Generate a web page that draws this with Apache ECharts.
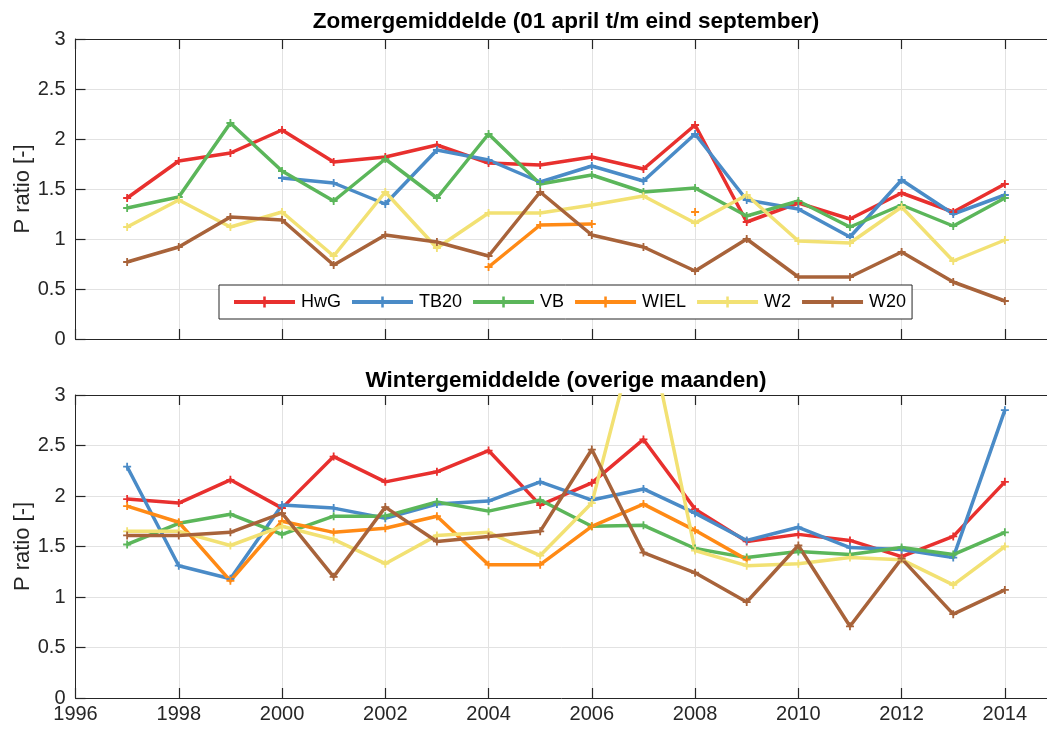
<!DOCTYPE html>
<html>
<head>
<meta charset="utf-8">
<script src="https://cdn.jsdelivr.net/npm/echarts@6/dist/echarts.min.js"></script>
<style>
  html, body { margin: 0; padding: 0; background: #fff; }
  #chart { width: 1047px; height: 729px; }
</style>
</head>
<body>
<div id="chart"></div>
<script>
// Jaren
const years = [1997, 1998, 1999, 2000, 2001, 2002, 2003, 2004, 2005, 2006, 2007, 2008, 2009, 2010, 2011, 2012, 2013, 2014];

// Zomergemiddelde (01 april t/m eind september)
const hwgZomer  = [1.41, 1.78, 1.86, 2.09, 1.77, 1.82, 1.94, 1.76, 1.74, 1.82, 1.70, 2.14, 1.17, 1.36, 1.20, 1.46, 1.27, 1.55];
const tb20Zomer = [null, null, null, 1.61, 1.56, 1.35, 1.89, 1.79, 1.57, 1.73, 1.58, 2.05, 1.39, 1.30, 1.02, 1.59, 1.25, 1.44];
const vbZomer   = [1.31, 1.42, 2.16, 1.68, 1.38, 1.80, 1.41, 2.05, 1.55, 1.64, 1.47, 1.51, 1.23, 1.38, 1.12, 1.34, 1.13, 1.41];
const wielZomer = [null, null, null, null, null, null, null, 0.72, 1.14, 1.15, null, 1.27, null, null, null, null, null, null];
const w2Zomer   = [1.12, 1.39, 1.12, 1.27, 0.83, 1.47, 0.91, 1.26, 1.26, 1.34, 1.43, 1.16, 1.44, 0.98, 0.96, 1.32, 0.78, 0.99];
const w20Zomer  = [0.77, 0.92, 1.22, 1.19, 0.74, 1.04, 0.97, 0.83, 1.47, 1.04, 0.92, 0.68, 1.00, 0.62, 0.62, 0.87, 0.57, 0.38];

// Wintergemiddelde (overige maanden)
const hwgWinter  = [1.97, 1.93, 2.16, 1.88, 2.39, 2.14, 2.24, 2.45, 1.91, 2.13, 2.56, 1.87, 1.55, 1.62, 1.56, 1.40, 1.60, 2.14];
const tb20Winter = [2.29, 1.31, 1.18, 1.91, 1.88, 1.78, 1.92, 1.95, 2.14, 1.96, 2.07, 1.83, 1.56, 1.69, 1.49, 1.47, 1.39, 2.85];
const vbWinter   = [1.52, 1.73, 1.82, 1.62, 1.80, 1.80, 1.94, 1.85, 1.96, 1.70, 1.71, 1.48, 1.39, 1.45, 1.42, 1.49, 1.42, 1.64];
const wielWinter = [1.90, 1.74, 1.16, 1.75, 1.64, 1.68, 1.80, 1.32, 1.32, 1.70, 1.92, 1.66, 1.37, null, null, null, null, null];
const w2Winter   = [1.65, 1.65, 1.51, 1.70, 1.57, 1.33, 1.61, 1.64, 1.41, 1.93, 3.90, 1.46, 1.31, 1.33, 1.39, 1.37, 1.12, 1.50];
const w20Winter  = [1.61, 1.61, 1.64, 1.83, 1.20, 1.89, 1.55, 1.60, 1.65, 2.46, 1.44, 1.24, 0.95, 1.51, 0.71, 1.38, 0.83, 1.07];

const stations = ['HwG', 'TB20', 'VB', 'WIEL', 'W2', 'W20'];
const colors = ['#e8302e', '#4a8bc7', '#5bb65a', '#ff8a15', '#f2e173', '#a8633a'];
const yTicks = { min: 0, max: 3, interval: 0.5 };
const xTicks = { min: 1996, max: 2015, interval: 2 };

const zomer = [hwgZomer, tb20Zomer, vbZomer, wielZomer, w2Zomer, w20Zomer];
const winter = [hwgWinter, tb20Winter, vbWinter, wielWinter, w2Winter, w20Winter];

const FONT = 'Liberation Sans, Arial, Helvetica, sans-serif';
const INK = '#262626';
const GRIDLINE = '#e2e2e2';

const plusSymbol = 'path://M-0.9,-4 L0.9,-4 L0.9,-0.9 L4,-0.9 L4,0.9 L0.9,0.9 L0.9,4 L-0.9,4 L-0.9,0.9 L-4,0.9 L-4,-0.9 L-0.9,-0.9 Z';

function pairs(values) {
  return years.map((y, i) => [y, values[i] == null ? '-' : values[i]]);
}

function xAxes(gridIndex, withLabels) {
  const base = {
    gridIndex: gridIndex,
    type: 'value',
    min: xTicks.min,
    max: xTicks.max,
    interval: xTicks.interval,
    axisLine: { show: true, lineStyle: { color: INK, width: 1 } },
    axisTick: { show: true, inside: true, length: 10, lineStyle: { color: INK, width: 1.2 } }
  };
  return [
    Object.assign({}, base, {
      position: 'bottom',
      splitLine: { show: true, lineStyle: { color: GRIDLINE, width: 1 } },
      axisLabel: {
        show: withLabels,
        fontFamily: FONT,
        fontSize: 20,
        color: INK,
        margin: 6,
        showMaxLabel: false,
        formatter: v => (v % 2 === 0 ? String(v) : '')
      }
    }),
    Object.assign({}, base, {
      position: 'top',
      splitLine: { show: false },
      axisLabel: { show: false }
    })
  ];
}

function yAxis(gridIndex) {
  return {
    gridIndex: gridIndex,
    type: 'value',
    min: yTicks.min,
    max: yTicks.max,
    interval: yTicks.interval,
    name: 'P ratio [-]',
    nameLocation: 'middle',
    nameGap: 42,
    nameMoveOverlap: false,
    nameTextStyle: { fontFamily: FONT, fontSize: 22, color: INK },
    axisLine: { show: true, lineStyle: { color: INK, width: 1 } },
    axisTick: { show: true, inside: true, length: 10, lineStyle: { color: INK, width: 1.2 } },
    splitLine: { show: true, lineStyle: { color: GRIDLINE, width: 1 } },
    axisLabel: { fontFamily: FONT, fontSize: 20, color: INK, margin: 10 }
  };
}

function makeSeries(sets, xIndex, yIndex) {
  return sets.map((values, i) => ({
    name: stations[i],
    type: 'line',
    xAxisIndex: xIndex,
    yAxisIndex: yIndex,
    data: pairs(values),
    color: colors[i],
    symbol: plusSymbol,
    symbolSize: 8,
    showSymbol: true,
    connectNulls: false,
    clip: true,
    animation: false,
    lineStyle: { width: 3.5, color: colors[i] },
    itemStyle: { color: colors[i] },
    emphasis: { disabled: true }
  }));
}

const chart = echarts.init(document.getElementById('chart'), null, { renderer: 'canvas' });

chart.setOption({
  animation: false,
  backgroundColor: '#ffffff',
  grid: [
    { left: 75.5, top: 39, width: 981, height: 300, show: false, containLabel: false, outerBoundsMode: 'none' },
    { left: 75.5, top: 395, width: 981, height: 303, show: false, containLabel: false, outerBoundsMode: 'none' }
  ],
  xAxis: [].concat(xAxes(0, false), xAxes(1, true)),
  yAxis: [yAxis(0), yAxis(1)],
  legend: {
    data: stations,
    left: 219,
    top: 285,
    orient: 'horizontal',
    itemWidth: 61,
    itemHeight: 14,
    itemGap: 9,
    padding: [8, 6, 8, 13],
    backgroundColor: '#ffffff',
    borderColor: INK,
    borderWidth: 1,
    borderRadius: 0,
    selectedMode: false,
    lineStyle: { width: 4 },
    textStyle: { fontFamily: FONT, fontSize: 18, color: '#000', padding: [0, 0, 0, 1] }
  },
  graphic: [
    {
      type: 'text',
      x: 566,
      y: 22,
      style: {
        text: 'Zomergemiddelde (01 april t/m eind september)',
        font: 'bold 22.5px ' + FONT,
        fill: '#000',
        textAlign: 'center',
        textVerticalAlign: 'middle'
      }
    },
    {
      type: 'text',
      x: 566,
      y: 381,
      style: {
        text: 'Wintergemiddelde (overige maanden)',
        font: 'bold 22.5px ' + FONT,
        fill: '#000',
        textAlign: 'center',
        textVerticalAlign: 'middle'
      }
    }
  ],
  series: [].concat(makeSeries(zomer, 0, 0), makeSeries(winter, 2, 1))
});
</script>
</body>
</html>
